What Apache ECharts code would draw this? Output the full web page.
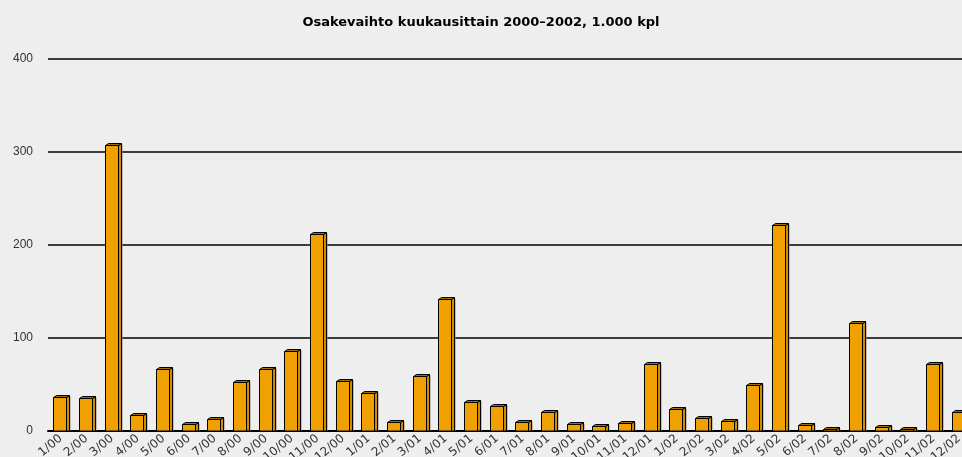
<!DOCTYPE html>
<html>
<head>
<meta charset="utf-8">
<script src="https://cdn.jsdelivr.net/npm/echarts@6/dist/echarts.min.js"></script>
<style>
  html, body { margin: 0; padding: 0; background: #eeeeee; }
  #chart { width: 962px; height: 457px; }
</style>
</head>
<body>
<div id="chart"></div>
<script>
const months = [
  '1/00', '2/00', '3/00', '4/00', '5/00', '6/00', '7/00', '8/00', '9/00', '10/00', '11/00', '12/00',
  '1/01', '2/01', '3/01', '4/01', '5/01', '6/01', '7/01', '8/01', '9/01', '10/01', '11/01', '12/01',
  '1/02', '2/02', '3/02', '4/02', '5/02', '6/02', '7/02', '8/02', '9/02', '10/02', '11/02', '12/02'
];
// osakevaihto, 1.000 kpl
const volume = [
  37, 35, 308, 17, 67, 8, 13, 53, 67, 86, 212, 54,
  41, 10, 59, 142, 31, 27, 10, 20, 8, 5, 9, 72,
  24, 14, 11, 49, 222, 6, 2.5, 116, 4, 2.2, 72, 20
];
const yTicks = [0, 100, 200, 300, 400];

const chart = echarts.init(document.getElementById('chart'));

// kolmiulotteinen pylväs: etupinta, sivu ja katto
function drawBar(params, api) {
  const base = api.coord([api.value(0), 0]);
  const top = api.coord([api.value(0), api.value(1)]);
  const w = 13, dx = 3, dy = 2;
  const x0 = Math.round(base[0] - w / 2 - 1) + 0.5;
  const x1 = x0 + w;
  const yb = base[1];
  const yt = Math.round(top[1]) + 0.5;
  return {
    type: 'group',
    children: [
      {
        type: 'rect',
        shape: { x: x1 + 1, y: yt - dy + 1, width: dx, height: yb - yt + dy - 1 },
        style: { fill: '#8a8a8a' }
      },
      {
        type: 'polygon',
        shape: { points: [[x1, yt], [x1 + dx, yt - dy], [x1 + dx, yb], [x1, yb]] },
        style: { fill: '#d08c00', stroke: '#000', lineWidth: 1 }
      },
      {
        type: 'polygon',
        shape: { points: [[x0, yt], [x0 + dx, yt - dy], [x1 + dx, yt - dy], [x1, yt]] },
        style: { fill: '#9a7010', stroke: '#000', lineWidth: 1 }
      },
      {
        type: 'rect',
        shape: { x: x0, y: yt, width: w, height: yb - yt },
        style: { fill: '#f0a000', stroke: '#000', lineWidth: 1 }
      }
    ]
  };
}

const option = {
  backgroundColor: '#eeeeee',
  animation: false,
  title: {
    text: 'Osakevaihto kuukausittain 2000\u20132002, 1.000 kpl',
    left: 'center',
    top: 11,
    textStyle: {
      fontFamily: 'DejaVu Sans',
      fontWeight: 'bold',
      fontSize: 13,
      color: '#000'
    }
  },
  grid: {
    left: 48,
    top: 59,
    bottom: 26,
    width: 924,
    outerBoundsMode: 'none',
    containLabel: false
  },
  xAxis: {
    type: 'category',
    data: months,
    axisTick: { show: false },
    axisLine: { lineStyle: { color: '#000', width: 2 } },
    axisLabel: {
      interval: 0,
      rotate: 40,
      margin: 6,
      fontSize: 12,
      color: '#333',
      fontFamily: 'DejaVu Sans'
    }
  },
  yAxis: {
    type: 'value',
    min: yTicks[0],
    max: yTicks[yTicks.length - 1],
    interval: 100,
    axisLine: { show: false },
    axisTick: { show: false },
    axisLabel: {
      margin: 15,
      fontSize: 12,
      color: '#333',
      fontFamily: 'Liberation Sans'
    },
    splitLine: { lineStyle: { color: '#000', width: 1.5 } }
  },
  series: [
    {
      type: 'custom',
      name: 'Osakevaihto',
      renderItem: drawBar,
      encode: { x: 0, y: 1 },
      data: volume.map((v, i) => [i, v]),
      z: 3
    }
  ]
};

chart.setOption(option);
</script>
</body>
</html>
